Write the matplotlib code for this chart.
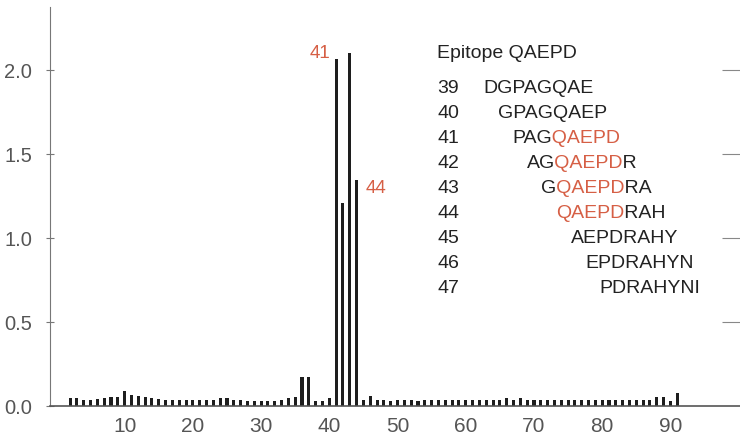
import numpy as np
import matplotlib
matplotlib.use("Agg")
import matplotlib.pyplot as plt
from matplotlib.textpath import TextPath
from matplotlib.font_manager import FontProperties
from matplotlib.transforms import Bbox

plt.rcParams['font.family'] = ['Liberation Sans', 'DejaVu Sans']

# residue positions and signal per peptide
positions = np.arange(2, 92)
signal = [
    0.045, 0.045, 0.038, 0.038, 0.042, 0.048, 0.052, 0.052, 0.090, 0.068,   # 2-11
    0.060, 0.052, 0.045, 0.040, 0.036, 0.034, 0.034, 0.034, 0.034, 0.034,   # 12-21
    0.034, 0.036, 0.050, 0.046, 0.034, 0.034, 0.032, 0.032, 0.032, 0.032,   # 22-31
    0.032, 0.034, 0.046, 0.052, 0.170, 0.170, 0.032, 0.032, 0.045, 2.065,   # 32-41
    1.210, 2.100, 1.345, 0.034, 0.060, 0.034, 0.034, 0.030, 0.034, 0.034,   # 42-51
    0.034, 0.030, 0.034, 0.034, 0.034, 0.034, 0.034, 0.034, 0.034, 0.034,   # 52-61
    0.034, 0.034, 0.034, 0.036, 0.050, 0.036, 0.046, 0.036, 0.034, 0.034,   # 62-71
    0.034, 0.034, 0.034, 0.034, 0.034, 0.034, 0.034, 0.034, 0.034, 0.034,   # 72-81
    0.034, 0.034, 0.034, 0.034, 0.034, 0.036, 0.055, 0.055, 0.030, 0.075,   # 82-91
]
x_ticks = [10, 20, 30, 40, 50, 60, 70, 80, 90]
y_ticks = [0.0, 0.5, 1.0, 1.5, 2.0]

epitope = "QAEPD"
row_numbers = [39, 40, 41, 42, 43, 44, 45, 46, 47]
peptides = ["DGPAGQAE", "GPAGQAEP", "PAGQAEPD", "AGQAEPDR", "GQAEPDRA",
            "QAEPDRAH", "AEPDRAHY", "EPDRAHYN", "PDRAHYNI"]

RED = '#d65f45'
INK = '#222222'
GREY = '#555555'
FS = 14


def split_peptide(pep, epi):
    """Cut a peptide into (start, end, colour) parts, epitope in red"""
    i = pep.find(epi)
    if i < 0:
        return [(0, len(pep), INK)]
    parts = []
    if i > 0:
        parts.append((0, i, INK))
    parts.append((i, i + len(epi), RED))
    if i + len(epi) < len(pep):
        parts.append((i + len(epi), len(pep), INK))
    return parts


fig = plt.figure(figsize=(7.4, 4.4), dpi=100)
W, H = 740.0, 440.0
ax = fig.add_axes([50 / W, 34 / H, 690 / W, 399 / H])

ax.bar(positions, signal, width=0.45, color='#1e1e1e', linewidth=0)

ax.set_xlim(-0.94, 100.2)
ax.set_ylim(0, 2.375)
ax.set_xticks(x_ticks)
ax.set_yticks(y_ticks)
ax.set_yticklabels(['%.1f' % v for v in y_ticks])

for s in ['top', 'right']:
    ax.spines[s].set_visible(False)
ax.spines['left'].set_color('#777777')
ax.spines['bottom'].set_color('#555555')
ax.spines['bottom'].set_linewidth(1.2)

ax.tick_params(axis='x', length=0, pad=8, labelsize=15, labelcolor=GREY)
ax.tick_params(axis='y', direction='inout', length=6, color='#777777',
               pad=10, labelsize=14.5, labelcolor=GREY)

# short ticks on the right edge
ax2 = ax.twinx()
ax2.set_ylim(ax.get_ylim())
ax2.set_yticks(y_ticks[1:])
ax2.tick_params(axis='y', direction='in', length=13, color='#888888', labelright=False)
for s in ax2.spines.values():
    s.set_visible(False)

# peak labels
ax.text(40.2, 2.07, '41', color=RED, fontsize=13.5, ha='right', va='baseline')
ax.text(45.3, 1.27, '44', color=RED, fontsize=13.5, ha='left', va='baseline')

prop = FontProperties(family='Liberation Sans')


def ink_right(s):
    """right edge of the glyph ink of s, in pixels"""
    if not s:
        return -50.0
    return TextPath((0, 0), s, size=FS, prop=prop).get_extents().x1 * 100 / 72.0


# epitope table
fig.text(437 / W, 1 - 58 / H, 'Epitope ' + epitope, color=INK, fontsize=FS, va='baseline')
for i, (num, pep) in enumerate(zip(row_numbers, peptides)):
    yb = 1 - (93 + 25 * i) / H
    x0 = 483 + 14.6 * i
    fig.text(437 / W, yb, str(num), color=INK, fontsize=FS, va='baseline')
    for start, end, col in split_peptide(pep, epitope):
        # whole peptide drawn each time, clipped to its own letters
        left = x0 + ink_right(pep[:start]) + 0.8
        right = x0 + ink_right(pep[:end]) + 0.8 if end < len(pep) else W
        t = fig.text(x0 / W, yb, pep, color=col, fontsize=FS, va='baseline')
        t.set_clip_box(Bbox([[left, 0], [right, H]]))

fig.savefig('out.png', dpi=100)
